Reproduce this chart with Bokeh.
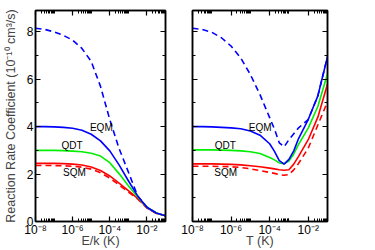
from bokeh.plotting import figure
from bokeh.models import FixedTicker, LinearAxis, LogAxis, Range1d, Label
from bokeh.layouts import row
from bokeh.embed import file_html
from bokeh.resources import INLINE

# ---- data ----
E = [1e-8, 3.16e-8, 1e-7, 3.16e-7, 1e-6, 3.16e-6, 1e-5, 3.16e-5, 1e-4,
     3.16e-4, 1e-3, 3.16e-3, 1e-2, 3.16e-2, 1e-1]
EQM_E = [4.00, 4.00, 3.99, 3.97, 3.93, 3.85, 3.68, 3.40, 2.98, 2.39, 1.72, 1.08, 0.60, 0.36, 0.24]
EQM_E_dash = [8.15, 8.10, 8.00, 7.85, 7.65, 7.30, 6.75, 5.70, 4.30, 3.08, 2.09, 1.08, 0.60, 0.36, 0.24]
QDT_E = [3.00, 3.00, 3.00, 2.99, 2.97, 2.94, 2.88, 2.76, 2.48, 2.02, 1.51, 1.03, 0.60, 0.36, 0.24]
SQM_E = [2.45, 2.45, 2.45, 2.44, 2.42, 2.38, 2.30, 2.15, 1.92, 1.62, 1.30, 0.98, 0.58, 0.35, 0.24]
SQM_E_dash = [2.36, 2.36, 2.36, 2.35, 2.33, 2.29, 2.21, 2.06, 1.83, 1.54, 1.24, 0.95, 0.57, 0.35, 0.24]

T = [1e-8, 3.16e-8, 1e-7, 3.16e-7, 1e-6, 3.16e-6, 1e-5, 3.16e-5, 1e-4, 1.78e-4,
     3.16e-4, 5.62e-4, 1e-3, 1.78e-3, 3.16e-3, 1e-2, 3.16e-2, 1e-1]
EQM_T = [4.00, 4.00, 3.99, 3.97, 3.95, 3.91, 3.82, 3.64, 3.28, 2.96, 2.57, 2.42, 2.62, 2.98, 3.50, 4.30, 5.30, 6.95]
EQM_T_dash = [8.15, 8.10, 7.98, 7.75, 7.40, 6.90, 6.20, 5.35, 4.38, 3.90, 3.32, 3.15, 3.45, 3.70, 3.95, 4.30, 5.30, 6.95]
QDT_T = [3.02, 3.02, 3.02, 3.01, 3.00, 2.98, 2.94, 2.87, 2.70, 2.60, 2.47, 2.44, 2.55, 2.85, 3.25, 3.94, 4.85, 6.23]
SQM_T = [2.43, 2.43, 2.43, 2.42, 2.41, 2.39, 2.35, 2.31, 2.25, 2.22, 2.18, 2.16, 2.18, 2.42, 2.75, 3.45, 4.40, 5.80]
SQM_T_dash = [2.33, 2.33, 2.33, 2.32, 2.31, 2.28, 2.22, 2.15, 2.07, 2.03, 1.98, 1.95, 1.98, 2.18, 2.45, 3.09, 4.07, 5.05]

x_major = [1e-8, 1e-6, 1e-4, 1e-2]
x_major_labels = ["10\u207b\u2078", "10\u207b\u2076", "10\u207b\u2074", "10\u207b\u00b2"]
x_minor = [k * 10.0 ** n for n in (-8, -6, -4, -2) for k in range(2, 10)] + [1e-7, 1e-5, 1e-3]
y_major = [0, 2, 4, 6, 8]
y_minor = [1, 3, 5, 7]

label_names = ["EQM", "QDT", "SQM"]
label_y = [3.97, 3.2, 2.05]
label_x_E = [3.5e-5, 9.3e-7, 1.25e-6]
label_x_T = [3.2e-5, 5.0e-7, 5.2e-7]

FONT = "Liberation Sans"
BLUE, GREEN, RED = "#0000ff", "#00ee00", "#ff0000"


def style_axis(ax, ticks, show_labels):
    ax.axis_line_width = 1.5
    ax.major_tick_in = 5
    ax.major_tick_out = 0
    ax.minor_tick_in = 3
    ax.minor_tick_out = 0
    ax.major_tick_line_width = 1.2
    ax.minor_tick_line_width = 1
    ax.major_label_text_font = FONT
    ax.major_label_text_color = "black"
    ax.major_label_text_font_size = "12px"
    ax.major_label_text_line_height = 1.0
    if show_labels:
        ax.major_label_standoff = 2
    else:
        ax.major_label_standoff = 0
        ax.major_label_overrides = {t: "" for t in ticks}


def make_panel(xs, series, xlabel, lx, show_y, width, bl, br):
    p = figure(width=width, height=250, x_axis_type="log",
               x_range=Range1d(1e-8, 1e-1), y_range=Range1d(0, 8.9),
               output_backend="svg", toolbar_location=None,
               min_border_left=bl, min_border_right=br,
               min_border_top=10, min_border_bottom=28)
    p.grid.visible = False
    p.outline_line_color = "black"
    p.outline_line_width = 1.5
    p.background_fill_color = "white"
    p.border_fill_color = "white"

    for ys, color, dash in series:
        p.line(xs, ys, line_color=color, line_width=1.6, line_dash=dash)

    p.xaxis.ticker = FixedTicker(ticks=x_major, minor_ticks=x_minor)
    style_axis(p.xaxis[0], x_major, True)
    p.xaxis.major_label_standoff = 1
    p.xaxis.major_label_overrides = dict(zip(x_major, x_major_labels))
    p.xaxis.axis_label = xlabel
    p.xaxis.axis_label_text_font = FONT
    p.xaxis.axis_label_text_font_size = "12.5px"
    p.xaxis.axis_label_text_font_style = "normal"
    p.xaxis.axis_label_text_line_height = 1.0
    p.xaxis.axis_label_standoff = -6

    p.yaxis.ticker = FixedTicker(ticks=y_major, minor_ticks=y_minor)
    style_axis(p.yaxis[0], y_major, show_y)
    if show_y:
        p.yaxis.axis_label = "Reaction Rate Coefficient (10\u207b\u00b9\u2070 cm\u00b3/s)"
        p.yaxis.axis_label_text_font = FONT
        p.yaxis.axis_label_text_font_size = "12.5px"
        p.yaxis.axis_label_text_font_style = "normal"
        p.yaxis.axis_label_text_line_height = 1.0
        p.yaxis.axis_label_standoff = 6

    top = LogAxis(ticker=FixedTicker(ticks=x_major, minor_ticks=x_minor))
    style_axis(top, x_major, False)
    p.add_layout(top, "above")
    right = LinearAxis(ticker=FixedTicker(ticks=y_major, minor_ticks=y_minor))
    style_axis(right, y_major, False)
    p.add_layout(right, "right")

    for name, x, y in zip(label_names, lx, label_y):
        p.add_layout(Label(x=x, y=y, text=name, text_align="center",
                           text_baseline="middle", text_font=FONT,
                           text_font_size="10px", text_color="black"))
    return p


p1 = make_panel(E, [(EQM_E_dash, BLUE, "6 4"), (SQM_E_dash, RED, "6 4"),
                    (SQM_E, RED, "solid"), (QDT_E, GREEN, "solid"), (EQM_E, BLUE, "solid")],
                "E/k (K)", label_x_E, True, 179, 32, 14)
p2 = make_panel(T, [(EQM_T_dash, BLUE, "6 4"), (SQM_T_dash, RED, "6 4"),
                    (SQM_T, RED, "solid"), (QDT_T, GREEN, "solid"), (EQM_T, BLUE, "solid")],
                "T (K)", label_x_T, False, 160, 13, 12)

layout = row(p1, p2)
open("out.html", "w").write(file_html(layout, INLINE))
